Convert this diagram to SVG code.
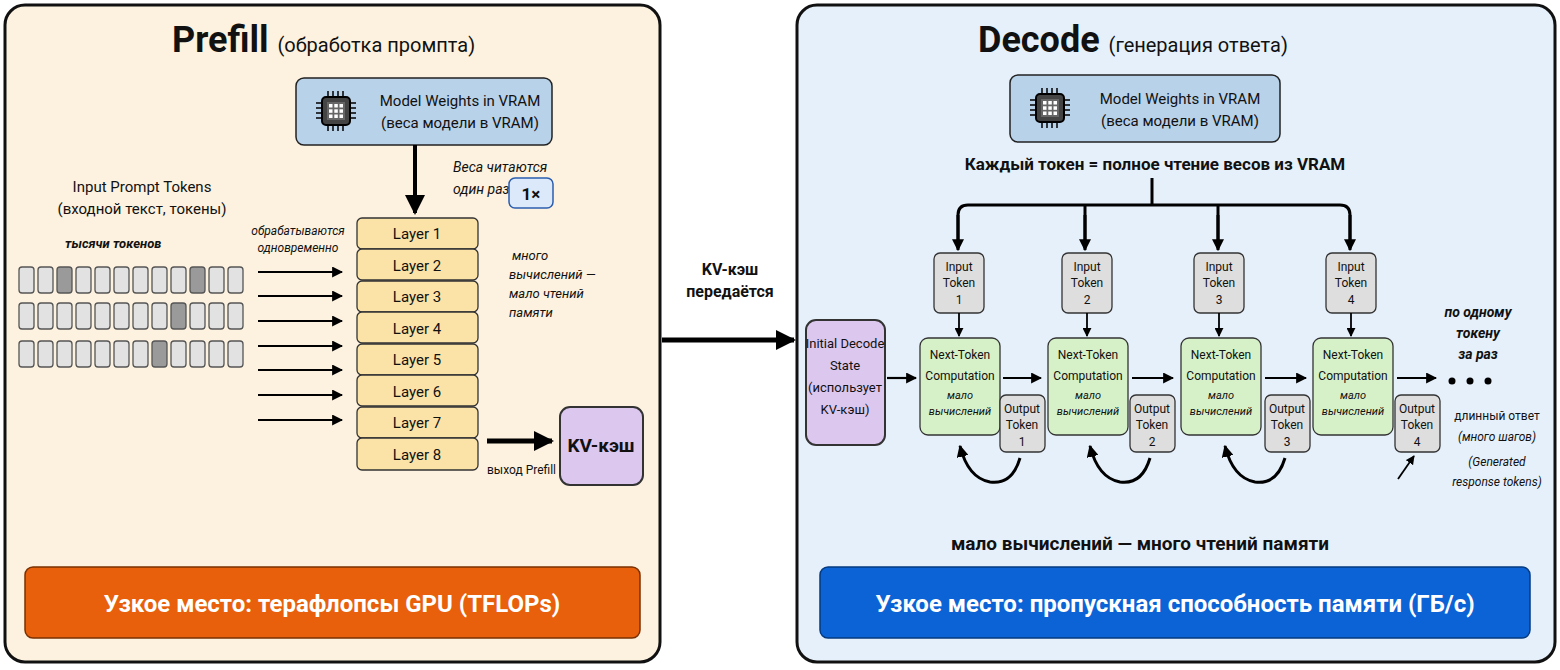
<svg xmlns="http://www.w3.org/2000/svg" width="1560" height="670" viewBox="0 0 1560 670">
<defs>
<marker id="ah" viewBox="0 0 10 10" refX="9" refY="5" markerWidth="4" markerHeight="4" orient="auto-start-reverse"><path d="M0,0L10,5L0,10z" fill="#000"/></marker>
<marker id="ahs" viewBox="0 0 10 10" refX="9" refY="5" markerWidth="5" markerHeight="5" orient="auto-start-reverse"><path d="M0,0L10,5L0,10z" fill="#000"/></marker>
<g id="chip">
<rect x="-14" y="-14" width="28" height="28" rx="4" fill="#444" stroke="#000" stroke-width="2"/>
<rect x="-9" y="-9" width="18" height="18" fill="#666"/>
<g fill="#fff"><rect x="-7" y="-7" width="3.5" height="3.5"/><rect x="-1.7" y="-7" width="3.5" height="3.5"/><rect x="3.5" y="-7" width="3.5" height="3.5"/><rect x="-7" y="-1.7" width="3.5" height="3.5"/><rect x="-1.7" y="-1.7" width="3.5" height="3.5"/><rect x="3.5" y="-1.7" width="3.5" height="3.5"/><rect x="-7" y="3.5" width="3.5" height="3.5"/><rect x="-1.7" y="3.5" width="3.5" height="3.5"/><rect x="3.5" y="3.5" width="3.5" height="3.5"/></g>
<path d="M-8,-14v-6M-3,-14v-6M2,-14v-6M7,-14v-6M-8,14v6M-3,14v6M2,14v6M7,14v6M-14,-8h-6M-14,-3h-6M-14,2h-6M-14,7h-6M14,-8h6M14,-3h6M14,2h6M14,7h6" stroke="#000" stroke-width="1.5"/>
</g>
</defs>
<style>
text{font-family:"Liberation Sans Narrow","Roboto","Liberation Sans",sans-serif;fill:#111}
.c{text-anchor:middle}
.b{font-weight:bold}
.i{font-style:italic}
.panel{stroke:#111;stroke-width:3}
.box{stroke:#222;stroke-width:1.5}
.tok{fill:#e2e2e2;stroke:#555;stroke-width:1.3}
.tokd{fill:#9a9a9a;stroke:#555;stroke-width:1.3}
.layer{fill:#fbe3a8;stroke:#333;stroke-width:1.3}
.gray{fill:#dedede;stroke:#333;stroke-width:1.3}
.green{fill:#d6f0c8;stroke:#333;stroke-width:1.3}
.purple{fill:#dcc7ef;stroke:#333;stroke-width:2}
.ln{stroke:#000;fill:none}
</style>
<g id="prefill-panel">
<rect class="panel" x="5" y="5" width="655" height="657" rx="20" fill="#fdf2df"/>
<text x="172" y="52" font-size="36" class="b">Prefill <tspan font-size="20" font-weight="normal">(обработка промпта)</tspan></text>
</g>
<g id="decode-panel">
<rect class="panel" x="797" y="5" width="758" height="657" rx="20" fill="#e5f0fa"/>
<text x="978" y="52" font-size="36" class="b">Decode <tspan font-size="20" font-weight="normal">(генерация ответа)</tspan></text>
</g>
<g id="weights-left">
<rect class="box" x="296" y="78" width="256" height="67" rx="8" fill="#b8d2ea" stroke-width="2"/>
<use href="#chip" x="336" y="111"/>
<text x="460" y="106" font-size="15" class="c">Model Weights in VRAM</text>
<text x="460" y="128" font-size="15" class="c">(веса модели в VRAM)</text>
</g>
<g id="once">
<text x="453" y="172" font-size="14" class="i">Веса читаются</text>
<text x="453" y="194" font-size="14" class="i">один раз</text>
<rect x="509" y="178" width="44" height="30" rx="6" fill="#dce9fb" stroke="#2a5db0" stroke-width="1.5"/>
<text x="531" y="200" font-size="17" class="c b">1×</text>
</g>
<g id="input-tokens">
<text x="142" y="192" font-size="15" class="c">Input Prompt Tokens</text>
<text x="142" y="214" font-size="15" class="c">(входной текст, токены)</text>
<text x="65" y="248" font-size="13" class="b i">тысячи токенов</text>
<g id="row1"><rect class="tok" x="19" y="267" width="15" height="26" rx="3"/><rect class="tok" x="38" y="267" width="15" height="26" rx="3"/><rect class="tokd" x="57" y="267" width="15" height="26" rx="3"/><rect class="tok" x="76" y="267" width="15" height="26" rx="3"/><rect class="tok" x="95" y="267" width="15" height="26" rx="3"/><rect class="tok" x="114" y="267" width="15" height="26" rx="3"/><rect class="tok" x="133" y="267" width="15" height="26" rx="3"/><rect class="tok" x="152" y="267" width="15" height="26" rx="3"/><rect class="tok" x="171" y="267" width="15" height="26" rx="3"/><rect class="tokd" x="190" y="267" width="15" height="26" rx="3"/><rect class="tok" x="209" y="267" width="15" height="26" rx="3"/><rect class="tok" x="228" y="267" width="15" height="26" rx="3"/></g>
<g id="row2"><rect class="tok" x="19" y="303" width="15" height="26" rx="3"/><rect class="tok" x="38" y="303" width="15" height="26" rx="3"/><rect class="tok" x="57" y="303" width="15" height="26" rx="3"/><rect class="tok" x="76" y="303" width="15" height="26" rx="3"/><rect class="tok" x="95" y="303" width="15" height="26" rx="3"/><rect class="tok" x="114" y="303" width="15" height="26" rx="3"/><rect class="tok" x="133" y="303" width="15" height="26" rx="3"/><rect class="tok" x="152" y="303" width="15" height="26" rx="3"/><rect class="tokd" x="171" y="303" width="15" height="26" rx="3"/><rect class="tok" x="190" y="303" width="15" height="26" rx="3"/><rect class="tok" x="209" y="303" width="15" height="26" rx="3"/><rect class="tok" x="228" y="303" width="15" height="26" rx="3"/></g>
<g id="row3"><rect class="tok" x="19" y="341" width="15" height="26" rx="3"/><rect class="tok" x="38" y="341" width="15" height="26" rx="3"/><rect class="tok" x="57" y="341" width="15" height="26" rx="3"/><rect class="tok" x="76" y="341" width="15" height="26" rx="3"/><rect class="tok" x="95" y="341" width="15" height="26" rx="3"/><rect class="tok" x="114" y="341" width="15" height="26" rx="3"/><rect class="tok" x="133" y="341" width="15" height="26" rx="3"/><rect class="tokd" x="152" y="341" width="15" height="26" rx="3"/><rect class="tok" x="171" y="341" width="15" height="26" rx="3"/><rect class="tok" x="190" y="341" width="15" height="26" rx="3"/><rect class="tok" x="209" y="341" width="15" height="26" rx="3"/><rect class="tok" x="228" y="341" width="15" height="26" rx="3"/></g>
</g>
<g id="layers">
<rect class="layer" x="357" y="218" width="121" height="31" rx="5"/><text x="417" y="239" font-size="15" class="c">Layer 1</text>
<rect class="layer" x="357" y="249" width="121" height="31" rx="5"/><text x="417" y="271" font-size="15" class="c">Layer 2</text>
<rect class="layer" x="357" y="281" width="121" height="31" rx="5"/><text x="417" y="302" font-size="15" class="c">Layer 3</text>
<rect class="layer" x="357" y="312" width="121" height="31" rx="5"/><text x="417" y="334" font-size="15" class="c">Layer 4</text>
<rect class="layer" x="357" y="344" width="121" height="31" rx="5"/><text x="417" y="365" font-size="15" class="c">Layer 5</text>
<rect class="layer" x="357" y="375" width="121" height="31" rx="5"/><text x="417" y="397" font-size="15" class="c">Layer 6</text>
<rect class="layer" x="357" y="407" width="121" height="31" rx="5"/><text x="417" y="428" font-size="15" class="c">Layer 7</text>
<rect class="layer" x="357" y="438" width="121" height="32" rx="5"/><text x="417" y="460" font-size="15" class="c">Layer 8</text>
</g>
<g id="layer-notes">
<text x="298" y="235" font-size="12" class="c i">обрабатываются</text>
<text x="298" y="252" font-size="12" class="c i">одновременно</text>
<text x="512" y="260" font-size="13" class="i">много</text>
<text x="509" y="279" font-size="13" class="i">вычислений —</text>
<text x="509" y="298" font-size="13" class="i">мало чтений</text>
<text x="509" y="317" font-size="13" class="i">памяти</text>
</g>
<g id="kv-left">
<rect class="purple" x="560" y="407" width="83" height="78" rx="10"/>
<text x="601" y="452" font-size="19" class="c b">KV-кэш</text>
<text x="487" y="474" font-size="12">выход Prefill</text>
</g>
<g id="bottleneck-left">
<rect x="25" y="567" width="615" height="71" rx="8" fill="#e8600c" stroke="#7a3000" stroke-width="1.5"/>
<text x="332" y="612" font-size="24" class="c b" style="fill:#fff">Узкое место: терафлопсы GPU (TFLOPs)</text>
</g>
<g id="center-label">
<text x="730" y="275" font-size="16" class="c b">KV-кэш</text>
<text x="730" y="297" font-size="16" class="c b">передаётся</text>
</g>
<g id="weights-right">
<rect class="box" x="1010" y="75" width="270" height="67" rx="8" fill="#b8d2ea" stroke-width="2"/>
<use href="#chip" x="1050" y="108"/>
<text x="1180" y="104" font-size="15" class="c">Model Weights in VRAM</text>
<text x="1180" y="126" font-size="15" class="c">(веса модели в VRAM)</text>
<text x="1155" y="170" font-size="17" class="c b">Каждый токен = полное чтение весов из VRAM</text>
</g>
<g id="init-state">
<rect class="purple" x="806" y="320" width="79" height="125" rx="10"/>
<text x="845" y="348" font-size="13" class="c">Initial Decode</text>
<text x="845" y="370" font-size="13" class="c">State</text>
<text x="845" y="392" font-size="13" class="c">(использует</text>
<text x="845" y="414" font-size="13" class="c">KV-кэш)</text>
</g>
<g id="step1">
<rect class="gray" x="934" y="253" width="50" height="60" rx="6"/>
<text x="959" y="271" font-size="12" class="c">Input</text><text x="959" y="287" font-size="12" class="c">Token</text><text x="959" y="304" font-size="12" class="c">1</text>
<rect class="green" x="920" y="338" width="80" height="97" rx="8"/>
<text x="960" y="359" font-size="12" class="c">Next-Token</text><text x="960" y="380" font-size="12" class="c">Computation</text><text x="960" y="399" font-size="11" class="c i">мало</text><text x="960" y="415" font-size="11" class="c i">вычислений</text>
<rect class="gray" x="1000" y="395" width="45" height="57" rx="6"/>
<text x="1022" y="413" font-size="12" class="c">Output</text><text x="1022" y="429" font-size="12" class="c">Token</text><text x="1022" y="446" font-size="12" class="c">1</text>
</g>
<g id="step2">
<rect class="gray" x="1062" y="253" width="50" height="60" rx="6"/>
<text x="1087" y="271" font-size="12" class="c">Input</text><text x="1087" y="287" font-size="12" class="c">Token</text><text x="1087" y="304" font-size="12" class="c">2</text>
<rect class="green" x="1048" y="338" width="80" height="97" rx="8"/>
<text x="1088" y="359" font-size="12" class="c">Next-Token</text><text x="1088" y="380" font-size="12" class="c">Computation</text><text x="1088" y="399" font-size="11" class="c i">мало</text><text x="1088" y="415" font-size="11" class="c i">вычислений</text>
<rect class="gray" x="1130" y="395" width="45" height="57" rx="6"/>
<text x="1152" y="413" font-size="12" class="c">Output</text><text x="1152" y="429" font-size="12" class="c">Token</text><text x="1152" y="446" font-size="12" class="c">2</text>
</g>
<g id="step3">
<rect class="gray" x="1194" y="253" width="50" height="60" rx="6"/>
<text x="1219" y="271" font-size="12" class="c">Input</text><text x="1219" y="287" font-size="12" class="c">Token</text><text x="1219" y="304" font-size="12" class="c">3</text>
<rect class="green" x="1181" y="338" width="80" height="97" rx="8"/>
<text x="1221" y="359" font-size="12" class="c">Next-Token</text><text x="1221" y="380" font-size="12" class="c">Computation</text><text x="1221" y="399" font-size="11" class="c i">мало</text><text x="1221" y="415" font-size="11" class="c i">вычислений</text>
<rect class="gray" x="1265" y="395" width="45" height="57" rx="6"/>
<text x="1287" y="413" font-size="12" class="c">Output</text><text x="1287" y="429" font-size="12" class="c">Token</text><text x="1287" y="446" font-size="12" class="c">3</text>
</g>
<g id="step4">
<rect class="gray" x="1326" y="253" width="50" height="60" rx="6"/>
<text x="1351" y="271" font-size="12" class="c">Input</text><text x="1351" y="287" font-size="12" class="c">Token</text><text x="1351" y="304" font-size="12" class="c">4</text>
<rect class="green" x="1313" y="338" width="80" height="97" rx="8"/>
<text x="1353" y="359" font-size="12" class="c">Next-Token</text><text x="1353" y="380" font-size="12" class="c">Computation</text><text x="1353" y="399" font-size="11" class="c i">мало</text><text x="1353" y="415" font-size="11" class="c i">вычислений</text>
<rect class="gray" x="1395" y="395" width="45" height="57" rx="6"/>
<text x="1417" y="413" font-size="12" class="c">Output</text><text x="1417" y="429" font-size="12" class="c">Token</text><text x="1417" y="446" font-size="12" class="c">4</text>
</g>
<g id="right-notes">
<text x="1478" y="317" font-size="14" class="c b i">по одному</text>
<text x="1478" y="338" font-size="14" class="c b i">токену</text>
<text x="1478" y="359" font-size="14" class="c b i">за раз</text>
<circle cx="1452" cy="381" r="3.5" fill="#000"/><circle cx="1470" cy="381" r="3.5" fill="#000"/><circle cx="1488" cy="381" r="3.5" fill="#000"/>
<text x="1497" y="420" font-size="12" class="c">длинный ответ</text>
<text x="1497" y="441" font-size="12" class="c i">(много шагов)</text>
<text x="1497" y="466" font-size="12" class="c i">(Generated</text>
<text x="1497" y="486" font-size="12" class="c i">response tokens)</text>
<text x="1140" y="550" font-size="19" class="c b">мало вычислений — много чтений памяти</text>
</g>
<g id="bottleneck-right">
<rect x="820" y="567" width="710" height="71" rx="8" fill="#0b63d6" stroke="#053a80" stroke-width="1.5"/>
<text x="1175" y="612" font-size="24" class="c b" style="fill:#fff">Узкое место: пропускная способность памяти (ГБ/с)</text>
</g>
<g id="connectors">
<path class="ln" d="M415,145V213" stroke-width="4" marker-end="url(#ahs)"/>
<g stroke-width="2.2" class="ln" marker-end="url(#ahs)">
<path d="M258,272H342"/><path d="M258,296H342"/><path d="M258,321H342"/><path d="M258,346H342"/><path d="M258,370H342"/><path d="M258,395H342"/><path d="M258,420H342"/>
</g>
<path class="ln" d="M487,441H552" stroke-width="5" marker-end="url(#ah)"/>
<path class="ln" d="M662,340H794" stroke-width="5" marker-end="url(#ah)"/>
<path class="ln" d="M1152,178V205M958,248V215Q958,205 968,205H1340Q1350,205 1350,215V248M1085,205V248M1218,205V248" stroke-width="3"/>
<g class="ln" stroke-width="3" marker-end="url(#ah)"><path d="M958,215V250"/><path d="M1085,215V250"/><path d="M1218,215V250"/><path d="M1350,215V250"/></g>
<g class="ln" stroke-width="1.8" marker-end="url(#ahs)"><path d="M959,313V336"/><path d="M1087,313V336"/><path d="M1219,313V336"/><path d="M1351,313V336"/></g>
<g class="ln" stroke-width="2.2" marker-end="url(#ahs)"><path d="M887,378H916"/><path d="M1003,378H1041"/><path d="M1132,378H1173"/><path d="M1265,378H1306"/><path d="M1397,378H1436"/></g>
<g class="ln" stroke-width="3" marker-end="url(#ah)">
<path d="M1020,458Q1012,485 990,482Q968,478 960,446"/>
<path d="M1150,458Q1142,485 1120,482Q1098,478 1090,446"/>
<path d="M1285,458Q1277,485 1255,482Q1233,478 1225,446"/>
</g>
<path class="ln" d="M1398,479L1414,456" stroke-width="1.8" marker-end="url(#ahs)"/>
</g>
</svg>
